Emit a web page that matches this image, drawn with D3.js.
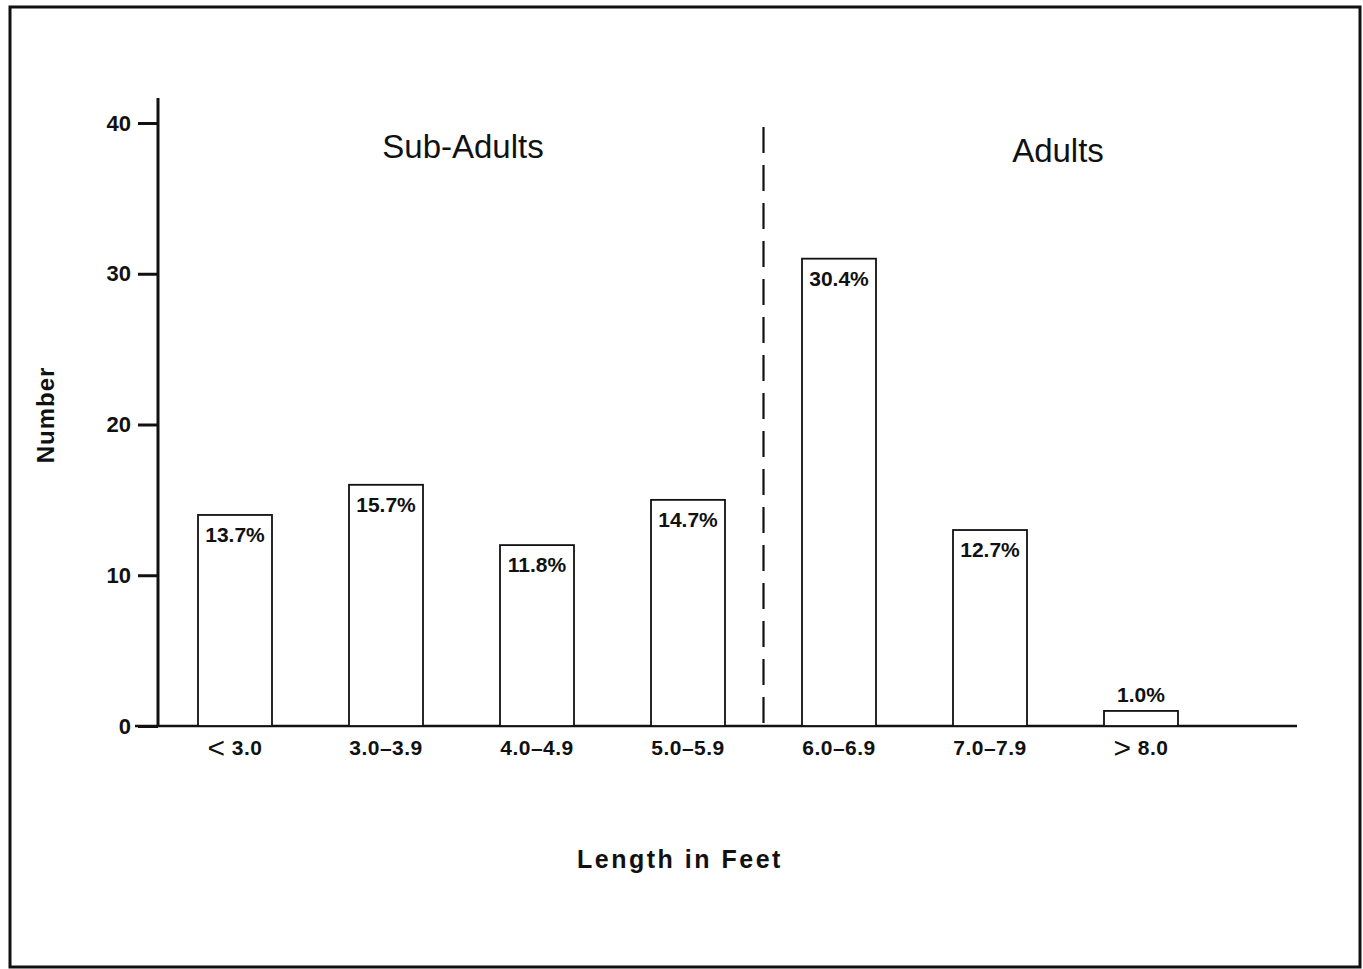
<!DOCTYPE html>
<html><head><meta charset="utf-8">
<script src="https://cdn.jsdelivr.net/npm/d3@7"></script>
<style>body{margin:0;background:#fff}svg{display:block}text{font-family:"Liberation Sans",Arial,Helvetica,sans-serif;fill:#111}</style>
</head><body><svg id="c" width="1363" height="969"></svg>
<script>
const categories = ["< 3.0","3.0\u20133.9","4.0\u20134.9","5.0\u20135.9","6.0\u20136.9","7.0\u20137.9","> 8.0"];
const counts = [14,16,12,15,31,13,1];
const percents = ["13.7%","15.7%","11.8%","14.7%","30.4%","12.7%","1.0%"];
const yTicks = [0,10,20,30,40];
const groups = [{name:"Sub-Adults", x:463, y:158},{name:"Adults", x:1058, y:162}];

const svg = d3.select("#c");
svg.append("rect").attr("x",10).attr("y",7).attr("width",1350).attr("height",960)
  .attr("fill","none").attr("stroke","#111").attr("stroke-width",3);

const x = d3.scaleBand().domain(categories).range([159.5,1216.5]).paddingInner(0.51).paddingOuter(0.255);
const y = d3.scaleLinear().domain([0,40]).range([726,123]);

// y axis
const yAxis = d3.axisLeft(y).tickValues(yTicks).tickSize(20).tickPadding(7).tickSizeOuter(0);
const gy = svg.append("g").attr("transform","translate(158,0)").call(yAxis);
gy.select(".domain").remove();
gy.selectAll(".tick line").attr("stroke","#111").attr("stroke-width",3);
gy.selectAll(".tick text").style("font-size","22px").style("font-weight","bold").attr("fill","#111");
svg.append("line").attr("x1",158).attr("x2",158).attr("y1",98).attr("y2",y(0)+1)
  .attr("stroke","#111").attr("stroke-width",3);

// baseline
svg.append("line").attr("x1",135).attr("x2",1297).attr("y1",y(0)).attr("y2",y(0))
  .attr("stroke","#111").attr("stroke-width",2.5);

// bars
svg.selectAll("rect.bar").data(counts).enter().append("rect").attr("class","bar")
  .attr("x",(d,i)=>x(categories[i])).attr("width",x.bandwidth())
  .attr("y",d=>y(d)).attr("height",d=>y(0)-y(d))
  .attr("fill","#fff").attr("stroke","#111").attr("stroke-width",1.8);

// percent labels
svg.selectAll("text.pct").data(counts).enter().append("text").attr("class","pct")
  .attr("x",(d,i)=>x(categories[i])+x.bandwidth()/2)
  .attr("y",d=> d>3 ? y(d)+27 : y(d)-9)
  .attr("text-anchor","middle").style("font-size","21px").style("font-weight","bold")
  .text((d,i)=>percents[i]);

// category labels
const cats = svg.selectAll("text.cat").data(categories).enter().append("text").attr("class","cat")
  .attr("x",d=>x(d)+x.bandwidth()/2).attr("y",y(0)+29)
  .attr("text-anchor","middle").style("font-size","21px").style("font-weight","bold")
  .style("letter-spacing","0.5px");
cats.each(function(d){
  const t = d3.select(this);
  if (d[0]==="<" || d[0]===">") {
    t.append("tspan").attr("dy",3).style("font-size","30px").style("font-weight","normal").text(d[0]);
    t.append("tspan").attr("dy",-3).text(d.slice(1));
  } else t.text(d);
});

// divider
const divX = (x(categories[3])+x.bandwidth()/2 + x(categories[4])+x.bandwidth()/2)/2;
svg.append("line").attr("x1",divX).attr("x2",divX).attr("y1",127).attr("y2",y(0)-3)
  .attr("stroke","#111").attr("stroke-width",2.2).attr("stroke-dasharray","26,12");

// group labels
svg.selectAll("text.grp").data(groups).enter().append("text").attr("class","grp")
  .attr("x",d=>d.x).attr("y",d=>d.y).attr("text-anchor","middle")
  .style("font-size","33px").text(d=>d.name);

// axis titles
svg.append("text").attr("x",680).attr("y",868).attr("text-anchor","middle")
  .style("font-size","25px").style("font-weight","bold").style("letter-spacing","2.5px").text("Length in Feet");
svg.append("text").attr("transform","translate(54,415) rotate(-90)").attr("text-anchor","middle")
  .style("font-size","24px").style("font-weight","bold").style("letter-spacing","1px").text("Number");
</script></body></html>
